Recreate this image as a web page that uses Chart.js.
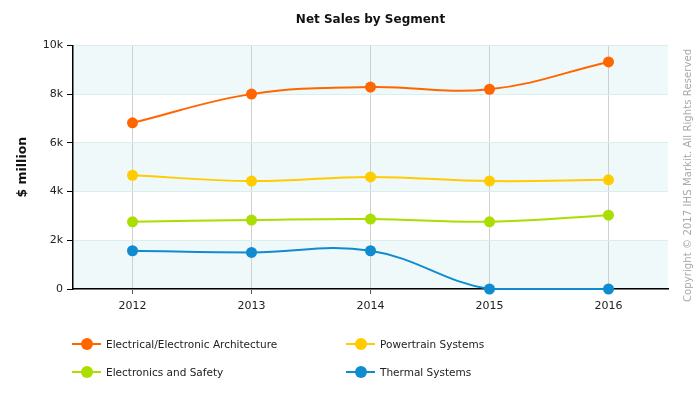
<!DOCTYPE html>
<html>
<head>
<meta charset="utf-8">
<script src="https://cdn.jsdelivr.net/npm/chart.js@4/dist/chart.umd.min.js"></script>
<style>
  html, body { margin: 0; padding: 0; background: #fff; }
  #wrap { position: relative; width: 700px; height: 400px; }
  #c { position: absolute; left: 0; top: 0; }
  .leg { position: absolute; font: 10.5px "DejaVu Sans", Verdana, sans-serif; color: #222; white-space: nowrap; }
  .leg .ln { position: absolute; left: 0; top: 6px; width: 29px; height: 2px; }
  .leg .dot { position: absolute; left: 9px; top: 1px; width: 12px; height: 12px; border-radius: 50%; }
  .leg .tx { position: absolute; left: 34px; top: 0; line-height: 14px; }
  #copy { position: absolute; left: 682px; top: 302px; width: 260px; height: 12px; line-height: 12px;
          transform-origin: 0 0; transform: rotate(-90deg);
          font: 10px "DejaVu Sans", Verdana, sans-serif; color: #a8a8a8; white-space: nowrap; letter-spacing: 0.1px; }
</style>
</head>
<body>
<div id="wrap">
  <canvas id="c" width="700" height="400"></canvas>
  <div id="legend"></div>
  <div id="copy">Copyright © 2017 IHS Markit. All Rights Reserved</div>
</div>
<script>
const years = ["2012", "2013", "2014", "2015", "2016"];
const seriesNames = ["Electrical/Electronic Architecture", "Powertrain Systems", "Electronics and Safety", "Thermal Systems"];
const electricalArchitecture = [6820, 8000, 8290, 8200, 9320];
const powertrainSystems = [4670, 4430, 4600, 4430, 4480];
const electronicsSafety = [2760, 2830, 2870, 2760, 3030];
const thermalSystems = [1570, 1500, 1570, 0, 0];
const yTicks = [0, 2000, 4000, 6000, 8000, 10000];
const seriesColors = ["#FF6600", "#FFCC00", "#AADD00", "#0F8BCF"];

const allValues = [electricalArchitecture, powertrainSystems, electronicsSafety, thermalSystems];

const bandPlugin = {
  id: 'bands',
  beforeDraw(chart) {
    const { ctx, chartArea, scales } = chart;
    const y = scales.y;
    ctx.save();
    ctx.fillStyle = '#F0F9F9';
    for (let i = 0; i < yTicks.length - 1; i += 2) {
      const top = y.getPixelForValue(yTicks[i + 1]);
      const bot = y.getPixelForValue(yTicks[i]);
      ctx.fillRect(chartArea.left, top, chartArea.right - chartArea.left, bot - top);
    }
    ctx.restore();
  }
};

const font = "'DejaVu Sans', Verdana, sans-serif";

const chart = new Chart(document.getElementById('c'), {
  type: 'line',
  data: {
    labels: years,
    datasets: allValues.map((vals, i) => ({
      label: seriesNames[i],
      data: vals,
      borderColor: seriesColors[i],
      backgroundColor: seriesColors[i],
      pointBackgroundColor: seriesColors[i],
      pointBorderColor: seriesColors[i],
      pointRadius: 5.5,
      pointBorderWidth: 0,
      borderWidth: 2,
      tension: 0.4,
      clip: false,
      order: -i
    }))
  },
  options: {
    responsive: false,
    animation: false,
    devicePixelRatio: 1,
    layout: { padding: { left: 0, right: 32, top: 0, bottom: 81 } },
    plugins: {
      legend: { display: false },
      tooltip: { enabled: false },
      title: {
        display: true,
        fullSize: false,
        text: 'Net Sales by Segment',
        color: '#111',
        font: { family: font, size: 12, weight: 'bold' },
        padding: { top: 13, bottom: 18 }
      }
    },
    scales: {
      x: {
        type: 'category',
        offset: true,
        afterFit(s) { s.height = 30; },
        grid: { offset: false, color: '#D0D0D0', lineWidth: 1, tickColor: '#555', tickLength: 5, drawOnChartArea: true },
        border: { color: '#000', width: 1.5 },
        ticks: { color: '#222', font: { family: font, size: 11 }, padding: 6 }
      },
      y: {
        min: 0, max: 10000,
        afterFit(s) { s.width = 73; },
        afterBuildTicks(s) { s.ticks = yTicks.map(v => ({ value: v })); },
        grid: { color: '#D9EEEE', lineWidth: 1, tickColor: '#000', tickLength: 6 },
        border: { color: '#000', width: 1.5 },
        ticks: {
          color: '#222', font: { family: font, size: 11 }, padding: 4,
          callback: v => v === 0 ? '0' : (v / 1000) + 'k'
        },
        title: {
          display: true, text: '$ million', color: '#111',
          font: { family: font, size: 12.5, weight: 'bold' },
          padding: { top: 15, bottom: 0 }
        }
      }
    }
  },
  plugins: [bandPlugin]
});

// HTML legend in two columns
const legendPos = [[72, 337], [346, 337], [72, 365], [346, 365]];
const legendEl = document.getElementById('legend');
chart.data.datasets.forEach((ds, i) => {
  const d = document.createElement('div');
  d.className = 'leg';
  d.style.left = legendPos[i][0] + 'px';
  d.style.top = legendPos[i][1] + 'px';
  d.innerHTML = '<span class="ln" style="background:' + ds.borderColor + '"></span>' +
                '<span class="dot" style="background:' + ds.borderColor + '"></span>' +
                '<span class="tx"></span>';
  d.querySelector('.tx').textContent = ds.label;
  legendEl.appendChild(d);
});
</script>
</body>
</html>
